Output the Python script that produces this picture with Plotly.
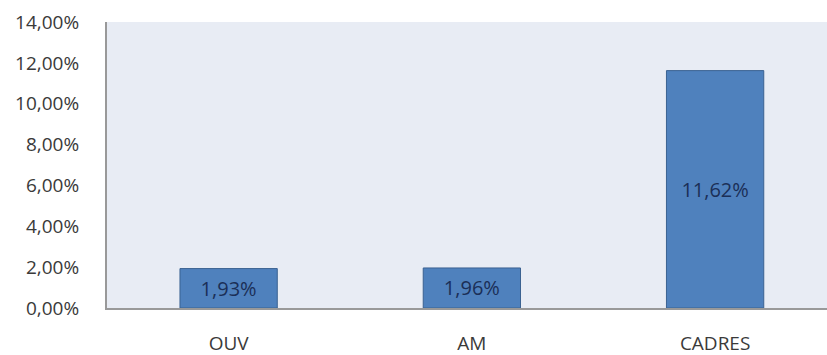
import plotly.graph_objects as go

categories = ["OUV", "AM", "CADRES"]
values = [1.93, 1.96, 11.62]
tick_vals = [0, 2, 4, 6, 8, 10, 12, 14]
tick_text = ["0,00%", "2,00%", "4,00%", "6,00%", "8,00%", "10,00%", "12,00%", "14,00%"]
bar_text = [f"{v:.2f}%".replace(".", ",") for v in values]

fig = go.Figure(go.Bar(
    x=list(range(len(categories))), y=values,
    width=0.40,
    marker=dict(color="#4F81BD", line=dict(color="#3B6291", width=1)),
    text=bar_text, textposition="inside", insidetextanchor="middle",
    textfont=dict(color="#1B2F57", size=20, family="Open Sans"),
    hoverinfo="skip",
))

fig.update_layout(
    width=827, height=355,
    margin=dict(l=107, r=0, t=22, b=47, autoexpand=False),
    paper_bgcolor="white",
    plot_bgcolor="#E8ECF4",
    showlegend=False,
    font=dict(family="Open Sans", size=19, color="#3A3A3A"),
    uniformtext=dict(minsize=10, mode="show"),
)
fig.update_xaxes(
    tickmode="array", tickvals=list(range(len(categories))), ticktext=categories,
    range=[-0.5, 2.46], automargin=False,
    showline=True, linecolor="#999999", linewidth=2,
    showgrid=False, zeroline=False, ticks="",
    tickfont=dict(size=19, color="#3A3A3A"), ticklabelstandoff=17,
)
fig.update_yaxes(
    tickmode="array", tickvals=tick_vals, ticktext=tick_text,
    range=[0, 14], automargin=False,
    showline=True, linecolor="#999999", linewidth=2,
    showgrid=False, zeroline=False, ticks="",
    tickfont=dict(size=19, color="#3A3A3A"), ticklabelstandoff=22,
)

fig.write_html("out.html")
